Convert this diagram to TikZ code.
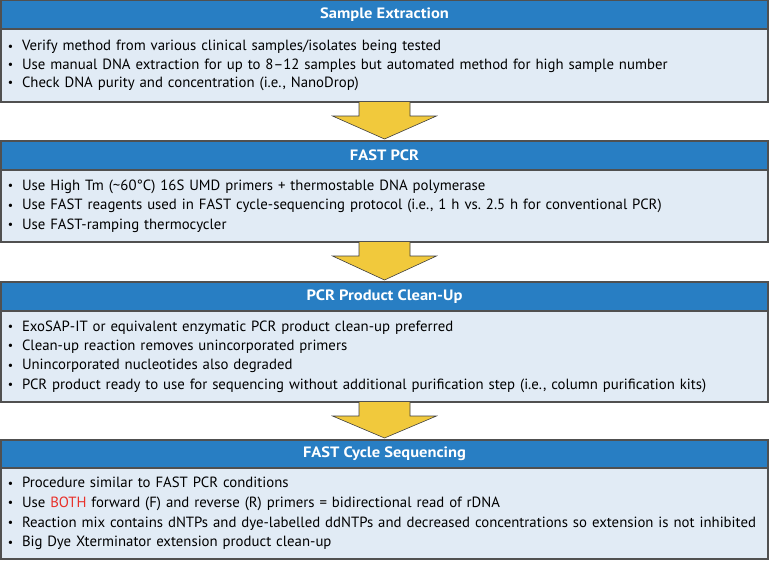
\documentclass[tikz,border=0pt]{standalone}
\usepackage{fontspec}
\setmainfont{PT Sans}
\newfontfamily\hdfont[FakeStretch=1.1]{PT Sans}
\usepackage{tikz}
\usetikzlibrary{calc}
\usetikzlibrary{positioning}
\definecolor{hdblue}{RGB}{40,126,195}
\definecolor{bdblue}{RGB}{225,235,245}
\definecolor{frame}{RGB}{80,80,80}
\definecolor{arrowyellow}{RGB}{241,201,60}
\definecolor{emred}{RGB}{232,48,42}
\tikzstyle{header}=[rectangle, fill=hdblue, draw=frame, line width=1.2pt, outer sep=0pt,
    minimum width=767pt, text=white, font=\hdfont\bfseries\fontsize{15}{17}\selectfont]
\tikzstyle{body}=[rectangle, fill=bdblue, draw=frame, line width=1.2pt, outer sep=0pt,
    minimum width=767pt, inner xsep=7pt, text width=753pt, align=left]
\tikzstyle{flow}=[fill=arrowyellow, draw=frame!80!black, line width=0.6pt]
\newcommand{\itm}{\makebox[14pt][l]{\raisebox{0.5pt}{\scalebox{0.8}{\textbullet}}}}
\frenchspacing

\begin{document}
\begin{tikzpicture}[x=1pt, y=1pt]
          \useasboundingbox (0,0) rectangle (771,-560);
          % sample extraction
          \node[header, minimum height=28.5pt] (hd0) at (384.5,-14.75){Sample Extraction};
          \node[body, minimum height=73pt, below=0pt of hd0, font=\fontsize{14.8}{18.3}\selectfont] (bd0){%
            \itm Verify method from various clinical samples/isolates being tested\\
            \itm Use manual DNA extraction for up to 8--12 samples but automated method for high sample number\\
            \itm Check DNA purity and concentration (i.e., NanoDrop)};
          % fast pcr
          \node[header, minimum height=29pt] (hd1) at (384.5,-155.5){FAST PCR};
          \node[body, minimum height=72pt, below=0pt of hd1, font=\fontsize{14.8}{19.5}\selectfont] (bd1){%
            \itm Use High Tm (\textasciitilde60°C) 16S UMD primers + thermostable DNA polymerase\\
            \itm Use FAST reagents used in FAST cycle-sequencing protocol (i.e., 1 h vs. 2.5 h for conventional PCR)\\
            \itm Use FAST-ramping thermocycler};
          % clean-up
          \node[header, minimum height=29pt] (hd2) at (384.5,-296.5){PCR Product Clean-Up};
          \node[body, minimum height=91pt, below=0pt of hd2, font=\fontsize{14.8}{19.3}\selectfont] (bd2){%
            \itm ExoSAP-IT or equivalent enzymatic PCR product clean-up preferred\\
            \itm Clean-up reaction removes unincorporated primers\\
            \itm Unincorporated nucleotides also degraded\\
            \itm PCR product ready to use for sequencing without additional purification step (i.e., column purification kits)};
          % cycle sequencing
          \node[header, minimum height=28pt] (hd3) at (384.5,-454){FAST Cycle Sequencing};
          \node[body, minimum height=91pt, below=0pt of hd3, font=\fontsize{14.8}{19.6}\selectfont] (bd3){%
            \itm Procedure similar to FAST PCR conditions\\
            \itm Use \textcolor{emred}{BOTH} forward (F) and reverse (R) primers = bidirectional read of rDNA\\
            \itm Reaction mix contains dNTPs and dye-labelled ddNTPs and decreased concentrations so extension is not inhibited\\
            \itm Big Dye Xterminator extension product clean-up};
          % arrows between the steps
          \foreach \a/\b in {bd0/hd1, bd1/hd2, bd2/hd3}
            \draw[flow] ($(\a.south)+(-25.5,0)$) -- ($(\a.south)+(-25.5,-14)$) -- ($(\a.south)+(-52,-14)$)
              -- ($(\b.north)+(0,2)$) -- ($(\a.south)+(52,-14)$) -- ($(\a.south)+(25.5,-14)$)
              -- ($(\a.south)+(25.5,0)$);
        \end{tikzpicture}
\end{document}
